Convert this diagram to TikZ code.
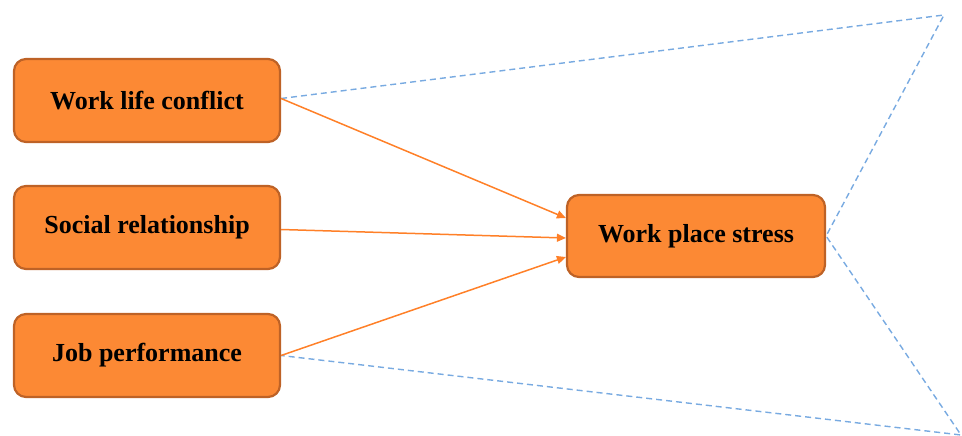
\documentclass[tikz,border=0pt]{standalone}
\usepackage{fontspec}
\setmainfont{Liberation Serif}
\usetikzlibrary{arrows.meta}
\definecolor{boxfill}{RGB}{252,137,52}
\definecolor{boxedge}{RGB}{190,98,38}
\definecolor{arrowor}{RGB}{255,128,40}
\definecolor{dashblue}{RGB}{120,170,225}
\begin{document}
\begin{tikzpicture}[x=1pt,y=-1pt,
  factor/.style={draw=boxedge, fill=boxfill, line width=2.2pt, rounded corners=12pt,
    minimum width=266pt, minimum height=83pt, inner sep=0pt,
    font=\fontsize{26}{30}\selectfont\bfseries},
  link/.style={draw=arrowor, line width=1.5pt,
    -{Triangle[length=9pt,width=8pt]}},
  zoomline/.style={draw=dashblue, line width=1.4pt, dash pattern=on 6pt off 4pt}]
  \useasboundingbox (0,0) rectangle (962,436);
  \node[factor] (wlc) at (147,100.5) {Work life conflict};
  \node[factor] (sr) at (147,227.5) {Social relationship};
  \node[factor] (jp) at (147,355.5) {Job performance};
  \node[factor, minimum width=258pt, minimum height=82pt] (wps) at (696,236) {Work place stress};
  \coordinate (tr) at (944,15);
  \coordinate (br) at (961,435);
  % dashed callout outline
  \draw[zoomline] ([yshift=2pt]wlc.east) -- (tr) -- (wps.east) -- (br) -- (jp.east);
  % influences on stress
  \draw[link] ([yshift=2pt]wlc.east) -- ([yshift=18pt]wps.west);
  \draw[link] ([yshift=-2pt]sr.east) -- ([yshift=-2pt]wps.west);
  \draw[link] (jp.east) -- ([yshift=-21pt]wps.west);
\end{tikzpicture}
\end{document}
